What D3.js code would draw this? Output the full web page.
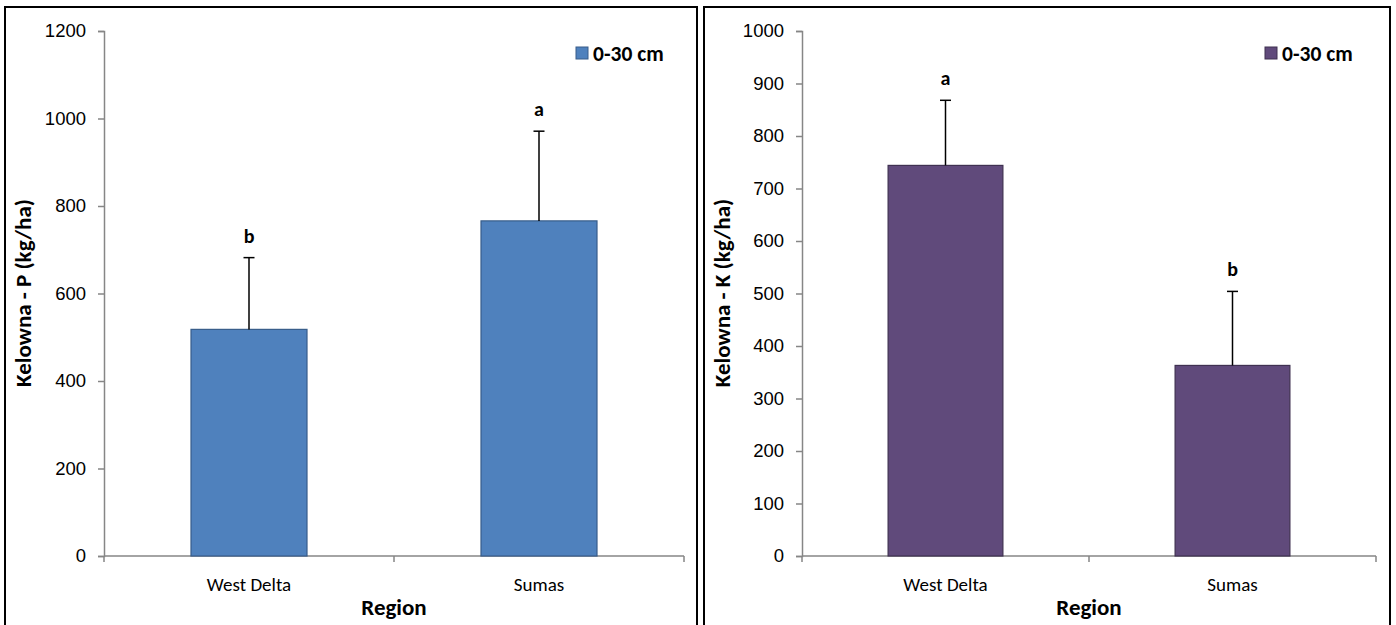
<!DOCTYPE html>
<html>
<head>
<meta charset="utf-8">
<script src="https://cdn.jsdelivr.net/npm/d3@7"></script>
<style>
  body { margin: 0; background: #fff; }
  svg { display: block; font-family: Carlito, Calibri, Lato, sans-serif; }
</style>
</head>
<body>
<svg id="chart" width="1396" height="625"></svg>
<script>
// regions on the x axis
const regions = ['West Delta', 'Sumas'];

// P panel (left)
const pMeans = [518, 766];
const pErrors = [164, 205];
const pLetters = ['b', 'a'];
const pTicks = [0, 200, 400, 600, 800, 1000, 1200];

// K panel (right)
const kMeans = [744, 363];
const kErrors = [124, 141];
const kLetters = ['a', 'b'];
const kTicks = [0, 100, 200, 300, 400, 500, 600, 700, 800, 900, 1000];

const legendLabel = '0-30 cm';

const svg = d3.select('#chart');

function drawPanel(cfg) {
  const g = svg.append('g');

  // outer frame, bottom edge sits off the picture
  g.append('rect')
    .attr('x', cfg.frame[0]).attr('y', 7)
    .attr('width', cfg.frame[1] - cfg.frame[0]).attr('height', 640)
    .attr('fill', 'none').attr('stroke', '#000').attr('stroke-width', 2);

  const x = d3.scaleBand().domain(regions).range([cfg.left, cfg.right]).paddingInner(0).paddingOuter(0);
  const y = d3.scaleLinear().domain([0, cfg.max]).range([556, 31]);
  const barW = x.bandwidth() * 0.4;

  // y axis
  const yAxis = g.append('g').attr('transform', `translate(${cfg.left},0)`)
    .call(d3.axisLeft(y).tickValues(cfg.ticks).tickSize(6).tickPadding(12).tickFormat(d3.format('d')));
  yAxis.select('.domain').attr('stroke', '#868686').attr('stroke-width', 1.5);
  yAxis.selectAll('.tick line').attr('stroke', '#868686').attr('stroke-width', 1.5);
  yAxis.selectAll('.tick text').attr('fill', '#000').style('font-size', '18.5px').style('font-family', null);

  // x axis with ticks at band edges
  const xg = g.append('g').attr('transform', 'translate(0,556)');
  xg.append('line').attr('x1', cfg.left).attr('x2', cfg.right)
    .attr('stroke', '#868686').attr('stroke-width', 1.5);
  const edges = [cfg.left, x(regions[1]), cfg.right];
  xg.selectAll('line.edge').data(edges).join('line').attr('class', 'edge')
    .attr('x1', d => d).attr('x2', d => d).attr('y1', 0).attr('y2', 6)
    .attr('stroke', '#868686').attr('stroke-width', 1.5);
  xg.selectAll('text.cat').data(regions).join('text').attr('class', 'cat')
    .attr('x', d => x(d) + x.bandwidth() / 2).attr('y', 35)
    .attr('text-anchor', 'middle').style('font-size', '19px').text(d => d);

  // bars
  const data = regions.map((r, i) => ({ r, v: cfg.means[i], e: cfg.errors[i], l: cfg.letters[i] }));
  g.selectAll('rect.bar').data(data).join('rect').attr('class', 'bar')
    .attr('x', d => x(d.r) + (x.bandwidth() - barW) / 2)
    .attr('y', d => y(d.v))
    .attr('width', barW)
    .attr('height', d => y(0) - y(d.v))
    .attr('fill', cfg.fill).attr('stroke', cfg.edge).attr('stroke-width', 1.2);

  // error bars (upper only)
  const cx = d => x(d.r) + x.bandwidth() / 2;
  g.selectAll('line.err').data(data).join('line').attr('class', 'err')
    .attr('x1', cx).attr('x2', cx)
    .attr('y1', d => y(d.v)).attr('y2', d => y(d.v + d.e))
    .attr('stroke', '#000').attr('stroke-width', 1.5);
  g.selectAll('line.cap').data(data).join('line').attr('class', 'cap')
    .attr('x1', d => cx(d) - 5.5).attr('x2', d => cx(d) + 5.5)
    .attr('y1', d => y(d.v + d.e)).attr('y2', d => y(d.v + d.e))
    .attr('stroke', '#000').attr('stroke-width', 1.5);

  // significance letters
  g.selectAll('text.sig').data(data).join('text').attr('class', 'sig')
    .attr('x', cx).attr('y', d => y(d.v + d.e) - 15)
    .attr('text-anchor', 'middle').style('font-size', '20px').style('font-weight', 'bold')
    .text(d => d.l);

  // axis titles
  g.append('text')
    .attr('transform', `translate(${cfg.frame[0] + 26},293) rotate(-90)`)
    .attr('text-anchor', 'middle').style('font-size', '23px').style('font-weight', 'bold')
    .text(cfg.title);
  g.append('text')
    .attr('x', (cfg.left + cfg.right) / 2).attr('y', 615)
    .attr('text-anchor', 'middle').style('font-size', '23px').style('font-weight', 'bold')
    .text('Region');

  // legend
  g.append('rect').attr('x', cfg.legendX).attr('y', 47).attr('width', 12).attr('height', 12)
    .attr('fill', cfg.fill).attr('stroke', cfg.edge).attr('stroke-width', 1);
  g.append('text').attr('x', cfg.legendX + 17).attr('y', 60.5)
    .style('font-size', '21.5px').style('font-weight', 'bold').text(legendLabel);
}

drawPanel({
  frame: [5, 697], left: 104, right: 684, max: 1200, ticks: pTicks,
  means: pMeans, errors: pErrors, letters: pLetters,
  fill: '#4F81BD', edge: '#385D8A', title: 'Kelowna - P (kg/ha)', legendX: 576
});

drawPanel({
  frame: [704, 1390], left: 802, right: 1376, max: 1000, ticks: kTicks,
  means: kMeans, errors: kErrors, letters: kLetters,
  fill: '#604A7B', edge: '#3F3151', title: 'Kelowna - K (kg/ha)', legendX: 1265
});
</script>
</body>
</html>
